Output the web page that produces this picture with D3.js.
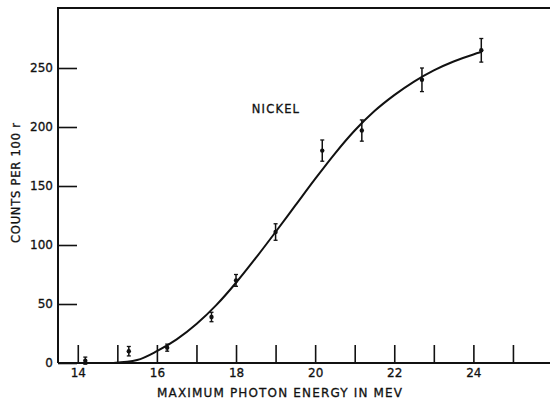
<!DOCTYPE html>
<html>
<head>
<meta charset="utf-8">
<script src="https://cdn.jsdelivr.net/npm/d3@7"></script>
<style>
	body { margin: 0; background: #fff; }
	svg { display: block; }
	text { font-family: "DejaVu Sans", sans-serif; fill: #111; stroke: #111; stroke-width: 0.3px; }
	.axis path, .axis line { stroke: #111; }
	.axis .domain { stroke-width: 2; }
	.axis .tick line { stroke-width: 1.6; }
</style>
</head>
<body>
<svg id="chart" width="550" height="402"></svg>
<script>
// measured points: energy (MeV), counts per 100 r, error half-height
var energy = [14.19, 15.29, 16.26, 17.38, 18.0, 19.0, 20.18, 21.18, 22.7, 24.2];
var counts = [2, 10, 13, 39, 70, 111, 180, 197, 240, 265];
var errors = [3, 4, 3, 4, 5, 7, 9, 9, 10, 10];

// smooth curve drawn through the data
var curveEnergy = [14.9, 15.5, 16, 16.5, 17, 17.5, 18, 18.5, 19, 19.5, 20, 20.5, 21, 21.5, 22, 22.5, 23, 23.5, 24, 24.2];
var curveCounts = [0, 2.5, 10, 20, 33, 49, 68, 89, 111, 133.5, 156, 177.5, 197, 213.5, 227, 238.5, 248, 255.5, 261.5, 263.5];

var xTicks = [14, 15, 16, 17, 18, 19, 20, 21, 22, 23, 24, 25];
var yTicks = [0, 50, 100, 150, 200, 250];

var svg = d3.select("#chart");
var x = d3.scaleLinear().domain([13.5, 26]).range([58, 552.5]);
var y = d3.scaleLinear().domain([0, 300]).range([363, 9]);

// frame line along the top
svg.append("line")
	.attr("x1", x(13.5)).attr("x2", x(26))
	.attr("y1", y(300) - 1).attr("y2", y(300) - 1)
	.attr("stroke", "#111").attr("stroke-width", 2);

// y axis, ticks pointing inward
var yaxis = svg.append("g").attr("class", "y axis")
	.attr("transform", "translate(" + x(13.5) + ",0)")
	.call(d3.axisLeft(y).tickValues(yTicks).tickSizeInner(-19).tickSizeOuter(0).tickPadding(5));
yaxis.select(".domain").attr("d", "M0," + y(0) + "V" + (y(300) - 2));
yaxis.selectAll("text").style("font-size", "12px");

// x axis, ticks pointing up, only even energies labelled
var xaxis = svg.append("g").attr("class", "x axis")
	.attr("transform", "translate(0," + y(0) + ")")
	.call(d3.axisBottom(x).tickValues(xTicks).tickSizeInner(-18).tickSizeOuter(0).tickPadding(5)
		.tickFormat(function(d) { return d % 2 == 0 ? d : ""; }));
xaxis.select(".domain").attr("d", "M" + x(13.5) + ",0H550");
xaxis.selectAll("text").style("font-size", "12px");

// fitted curve
var pts = curveEnergy.map(function(e, i) { return [e, curveCounts[i]]; });
svg.append("path").datum(pts)
	.attr("fill", "none").attr("stroke", "#111").attr("stroke-width", 2)
	.attr("d", d3.line().x(function(d) { return x(d[0]); }).y(function(d) { return y(d[1]); }).curve(d3.curveMonotoneX));

// data points with error bars
var data = energy.map(function(e, i) { return {e: e, c: counts[i], err: errors[i]}; });
var pt = svg.selectAll("g.pt").data(data).enter().append("g").attr("class", "pt")
	.attr("transform", function(d) { return "translate(" + x(d.e) + ",0)"; });
pt.append("line").attr("y1", function(d) { return y(d.c + d.err); }).attr("y2", function(d) { return y(d.c - d.err); })
	.attr("stroke", "#111").attr("stroke-width", 1.5);
pt.append("line").attr("x1", -2).attr("x2", 2).attr("y1", function(d) { return y(d.c + d.err); }).attr("y2", function(d) { return y(d.c + d.err); })
	.attr("stroke", "#111").attr("stroke-width", 1.3);
pt.append("line").attr("x1", -2).attr("x2", 2).attr("y1", function(d) { return y(d.c - d.err); }).attr("y2", function(d) { return y(d.c - d.err); })
	.attr("stroke", "#111").attr("stroke-width", 1.3);
pt.append("circle").attr("cy", function(d) { return y(d.c); }).attr("r", 2.2).attr("fill", "#111");

// labels
svg.append("text").attr("x", 276).attr("y", 113).attr("text-anchor", "middle")
	.style("font-size", "11.5px").style("letter-spacing", "1.2px").text("NICKEL");
svg.append("text").attr("x", 157).attr("y", 397)
	.attr("textLength", 245).attr("lengthAdjust", "spacing")
	.style("font-size", "12px").text("MAXIMUM  PHOTON  ENERGY  IN  MEV");
svg.append("text").attr("transform", "translate(20,243) rotate(-90)")
	.attr("textLength", 120).attr("lengthAdjust", "spacing")
	.style("font-size", "11.5px").text("COUNTS PER 100 r");
</script>
</body>
</html>
